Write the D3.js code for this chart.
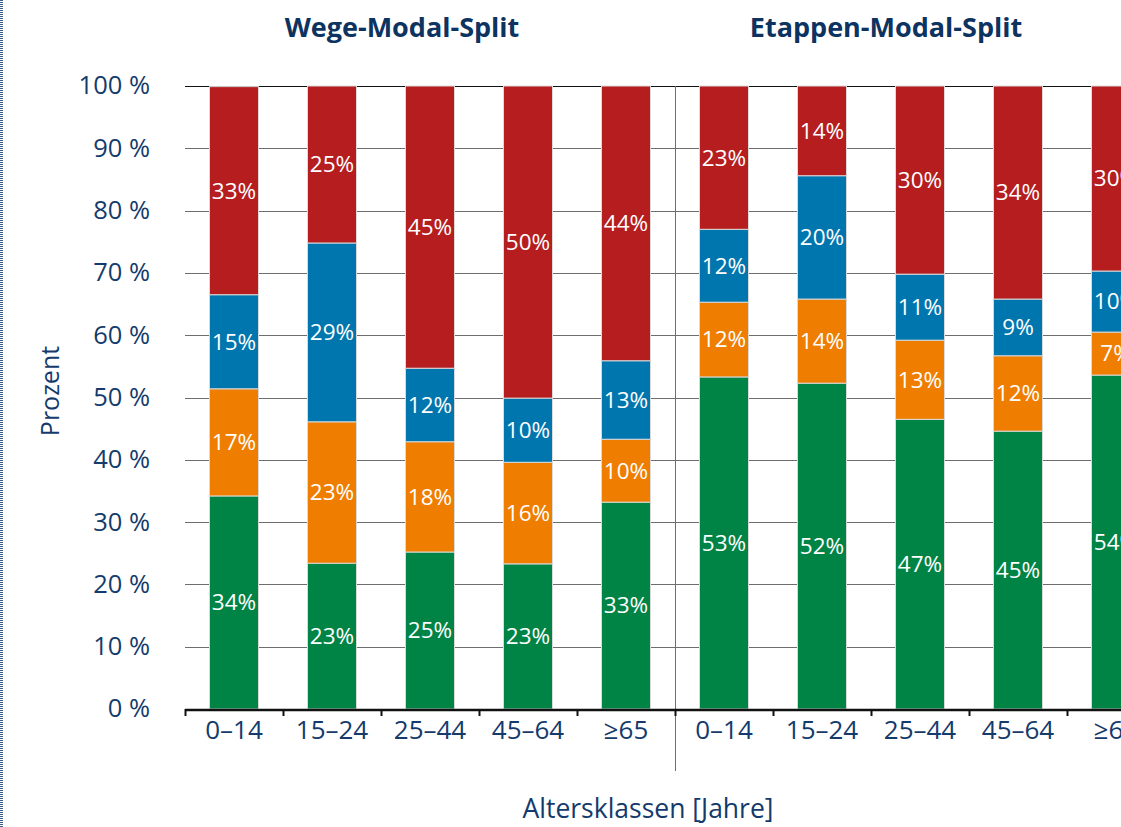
<!DOCTYPE html>
<html>
  <head>
    <meta charset="utf-8">
    <title>Modal-Split nach Altersklassen</title>
    <style type="text/css">
      body { margin: 0; background: #fff; }
      svg { display: block; font-family: "Open Sans", sans-serif; }
      .grid line { stroke: #6e6e6e; stroke-width: 1; shape-rendering: crispEdges; }
      .ytick text { fill: #143b6b; font-size: 25.5px; }
      .xlab text { fill: #143b6b; font-size: 26px; }
      .seg { stroke: #d9d9d9; stroke-width: 1; }
      .val { fill: #fff; font-size: 22.5px; }
    </style>
  </head>
  <body>
    <div id="main"></div>
    <script src="https://d3js.org/d3.v7.min.js"></script>
    <script>
    // data (values in %)
    var groups = ["Wege-Modal-Split", "Etappen-Modal-Split"];
    var ageClasses = ["0\u201314", "15\u201324", "25\u201344", "45\u201364", "\u226565"];
    var modes = ["green", "orange", "blue", "red"];
    var colors = ["#008446", "#ef7d00", "#0076ae", "#b51d1f"];
    var yTicks = [0, 10, 20, 30, 40, 50, 60, 70, 80, 90, 100];

    var wegeGreen   = [34.2, 23.4, 25.2, 23.3, 33.2];
    var wegeOrange  = [17.2, 22.7, 17.7, 16.3, 10.1];
    var wegeBlue    = [15.1, 28.7, 11.8, 10.3, 12.6];
    var wegeRed     = [33.4, 25.2, 45.3, 50.1, 44.1];
    var wegeLabels  = [[34, 17, 15, 33], [23, 23, 29, 25], [25, 18, 12, 45], [23, 16, 10, 50], [33, 10, 13, 44]];

    var etapGreen   = [53.3, 52.3, 46.5, 44.6, 53.6];
    var etapOrange  = [12.0, 13.5, 12.7, 12.1, 6.9];
    var etapBlue    = [11.7, 19.8, 10.6, 9.1, 9.8];
    var etapRed     = [23.0, 14.4, 30.2, 34.2, 29.7];
    var etapLabels  = [[53, 12, 12, 23], [52, 14, 20, 14], [47, 13, 11, 30], [45, 12, 9, 34], [54, 7, 10, 30]];

    // build rows
    var rows = [];
    ageClasses.forEach(function(a, i) {
      rows.push({key: "w" + i, age: a, vals: [wegeGreen[i], wegeOrange[i], wegeBlue[i], wegeRed[i]], labels: wegeLabels[i]});
    });
    ageClasses.forEach(function(a, i) {
      rows.push({key: "e" + i, age: a, vals: [etapGreen[i], etapOrange[i], etapBlue[i], etapRed[i]], labels: etapLabels[i]});
    });
    rows.forEach(function(r) {
      var acc = 0;
      r.segs = r.vals.map(function(v, k) {
        var s = {y0: acc, y1: acc + v, color: colors[k], label: r.labels[k], key: r.key};
        acc += v;
        return s;
      });
    });

    var W = 1121, H = 827;
    var plotLeft = 185, plotTop = 86, plotBottom = 709;

    var x = d3.scaleBand()
      .domain(rows.map(function(d) { return d.key; }))
      .range([plotLeft, plotLeft + 98 * rows.length])
      .paddingInner(0.5)
      .paddingOuter(0.25);
    var y = d3.scaleLinear().domain([0, 100]).range([plotBottom, plotTop]);
    var step = x.step();

    var svg = d3.select("#main").append("svg")
      .attr("width", W)
      .attr("height", H);

    // dotted frame on the left
    svg.append("line")
      .attr("x1", 1.5).attr("x2", 1.5)
      .attr("y1", 0).attr("y2", H)
      .attr("stroke", "#3d5f8f")
      .attr("stroke-width", 3)
      .attr("stroke-dasharray", "1,1");

    // gridlines
    svg.append("g").attr("class", "grid")
      .selectAll("line")
      .data(yTicks.filter(function(t) { return t > 0; }))
      .join("line")
      .attr("x1", plotLeft).attr("x2", W)
      .attr("y1", function(d) { return Math.round(y(d)) + 0.5; })
      .attr("y2", function(d) { return Math.round(y(d)) + 0.5; })
      .style("stroke", function(d) { return d === 100 ? "#111" : null; });

    // y labels
    svg.append("g").attr("class", "ytick")
      .selectAll("text")
      .data(yTicks)
      .join("text")
      .attr("x", 150)
      .attr("y", function(d) { return y(d); })
      .attr("dy", "0.33em")
      .attr("text-anchor", "end")
      .text(function(d) { return d + " %"; });

    // bars
    var bar = svg.append("g").selectAll("g")
      .data(rows)
      .join("g");

    bar.selectAll("rect")
      .data(function(d) { return d.segs; })
      .join("rect")
      .attr("class", "seg")
      .attr("x", function(d) { return x(d.key); })
      .attr("width", x.bandwidth())
      .attr("y", function(d) { return y(d.y1); })
      .attr("height", function(d) { return y(d.y0) - y(d.y1); })
      .attr("fill", function(d) { return d.color; });

    bar.selectAll("text")
      .data(function(d) { return d.segs; })
      .join("text")
      .attr("class", "val")
      .attr("x", function(d) { return x(d.key) + x.bandwidth() / 2; })
      .attr("y", function(d) { return y((d.y0 + d.y1) / 2); })
      .attr("dy", "0.35em")
      .attr("text-anchor", "middle")
      .text(function(d) { return d.label + "%"; });

    // separator between the two groups
    var sepX = plotLeft + step * ageClasses.length;
    svg.append("line")
      .attr("x1", sepX + 0.5).attr("x2", sepX + 0.5)
      .attr("y1", plotTop).attr("y2", 771)
      .attr("stroke", "#6e6e6e");

    // x axis
    svg.append("line")
      .attr("x1", plotLeft).attr("x2", W)
      .attr("y1", plotBottom + 1).attr("y2", plotBottom + 1)
      .attr("stroke", "#111")
      .attr("stroke-width", 2.5);

    svg.append("g").selectAll("line")
      .data(d3.range(rows.length + 1))
      .join("line")
      .attr("x1", function(i) { return plotLeft + i * step + 0.5; })
      .attr("x2", function(i) { return plotLeft + i * step + 0.5; })
      .attr("y1", plotBottom).attr("y2", plotBottom + 7)
      .attr("stroke", "#111")
      .attr("stroke-width", 2);

    svg.append("g").attr("class", "xlab")
      .selectAll("text")
      .data(rows)
      .join("text")
      .attr("x", function(d) { return x(d.key) + x.bandwidth() / 2; })
      .attr("y", 739)
      .attr("text-anchor", "middle")
      .text(function(d) { return d.age; });

    // group titles
    svg.selectAll(".title")
      .data(groups)
      .join("text")
      .attr("class", "title")
      .attr("x", function(d, i) { return [402, 886][i]; })
      .attr("y", 37)
      .attr("text-anchor", "middle")
      .attr("fill", "#0d3361")
      .style("font-size", "27px")
      .style("font-weight", "bold")
      .text(function(d) { return d; });

    // axis titles
    svg.append("text")
      .attr("transform", "translate(59,391) rotate(-90)")
      .attr("text-anchor", "middle")
      .attr("fill", "#143b6b")
      .style("font-size", "25px")
      .text("Prozent");

    svg.append("text")
      .attr("x", 648)
      .attr("y", 818)
      .attr("text-anchor", "middle")
      .attr("fill", "#143b6b")
      .style("font-size", "26.5px")
      .text("Altersklassen [Jahre]");
    </script>
  </body>
</html>
